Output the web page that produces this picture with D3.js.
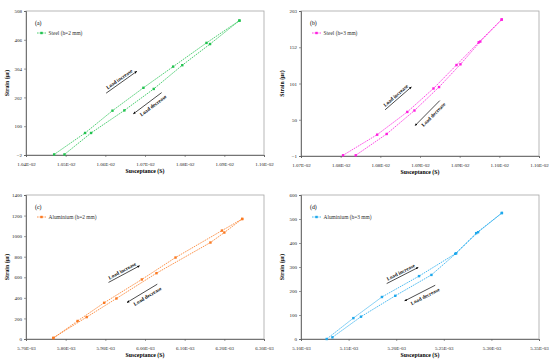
<!DOCTYPE html>
<html>
<head>
<meta charset="utf-8">
<script src="https://cdn.jsdelivr.net/npm/d3@7"></script>
<style>
  body { margin: 0; background: #fff; }
  svg { font-family: "Liberation Serif", "DejaVu Serif", serif; }
</style>
</head>
<body>
<svg width="550" height="362"></svg>
<script>
// (a) Steel h=2 mm : load increase then load decrease
var steel2IncX = [0.010471, 0.010549, 0.010618, 0.010696, 0.010771, 0.010855, 0.010938],
    steel2IncY = [0, 76, 155, 236, 311, 395, 474],
    steel2DecX = [0.010938, 0.010864, 0.010794, 0.010722, 0.010648, 0.010564, 0.010497],
    steel2DecY = [474, 391, 316, 232, 156, 76, 0];
// (b) Steel h=3 mm
var steel3IncX = [0.010773, 0.010816, 0.010854, 0.010887, 0.010916, 0.010944, 0.010973],
    steel3IncY = [0, 29, 61, 94, 127, 159, 191],
    steel3DecX = [0.010973, 0.010946, 0.010921, 0.010894, 0.010863, 0.010828, 0.010789],
    steel3DecY = [191, 160, 128, 96, 63, 30, 0];
// (c) Aluminium h=2 mm
var alu2IncX = [0.005769, 0.005830, 0.005897, 0.005992, 0.006077, 0.006194, 0.006245],
    alu2IncY = [8, 175, 352, 579, 792, 1054, 1167],
    alu2DecX = [0.006245, 0.006200, 0.006165, 0.006029, 0.005928, 0.005853, 0.005769],
    alu2DecY = [1167, 1035, 938, 640, 394, 213, 12];
// (d) Aluminium h=3 mm
var alu3IncX = [0.005127, 0.005155, 0.005185, 0.005224, 0.005262, 0.005284, 0.005311],
    alu3IncY = [0, 87, 175, 262, 355, 441, 525],
    alu3DecX = [0.005311, 0.005286, 0.005263, 0.005237, 0.005199, 0.005163, 0.005133],
    alu3DecY = [525, 445, 357, 267, 180, 93, 7];

// tick values
var ticksXa = [0.0104, 0.0105, 0.0106, 0.0107, 0.0108, 0.0109, 0.0110],
    ticksYa = [-2, 100, 202, 304, 406, 508],
    ticksXb = [0.01072, 0.01077, 0.01082, 0.01087, 0.01092, 0.01097, 0.01102],
    ticksYb = [-1, 50, 101, 152, 203],
    ticksXc = [0.0057, 0.0058, 0.0059, 0.0060, 0.0061, 0.0062, 0.0063],
    ticksYc = [0, 200, 400, 600, 800, 1000, 1200, 1400],
    ticksXd = [0.0051, 0.00515, 0.0052, 0.00525, 0.0053, 0.00535],
    ticksYd = [0, 100, 200, 300, 400, 500, 600];

// annotation arrows in data units [x0, y0, x1, y1] (arrow points to x1,y1)
var arrowsA = {inc: [0.010602, 217, 0.010679, 294], dec: [0.010742, 219, 0.010671, 144]},
    arrowsB = {inc: [0.010826, 64, 0.010859, 96], dec: [0.010895, 77, 0.010864, 42]},
    arrowsC = {inc: [0.005908, 550, 0.005986, 711], dec: [0.006031, 533, 0.005955, 356]},
    arrowsD = {inc: [0.005190, 231, 0.005223, 298], dec: [0.005241, 224, 0.005209, 159]};

var svg = d3.select("svg");

svg.append("defs").append("marker")
    .attr("id", "head")
    .attr("viewBox", "0 0 10 10")
    .attr("refX", 8).attr("refY", 5)
    .attr("markerWidth", 4).attr("markerHeight", 4)
    .attr("orient", "auto")
  .append("path")
    .attr("d", "M0,1L10,5L0,9z")
    .attr("fill", "#000");

function sci(d) {
  var p = d.toExponential(2).split("e"),
      e = +p[1];
  return p[0] + "E" + (e < 0 ? "-" : "+") + String(Math.abs(e)).padStart(2, "0");
}

function panel(o) {
  var g = svg.append("g"),
      x = d3.scaleLinear().domain([o.ticksX[0], o.ticksX[o.ticksX.length - 1]]).range([o.left, o.right]),
      y = d3.scaleLinear().domain([o.ticksY[0], o.ticksY[o.ticksY.length - 1]]).range([o.bottom, o.top]);

  // plot frame
  g.append("rect")
      .attr("x", o.left).attr("y", o.top)
      .attr("width", o.right - o.left).attr("height", o.bottom - o.top)
      .attr("fill", "none").attr("stroke", "#a6a6a6").attr("stroke-width", 0.8);

  var ax = g.append("g")
      .attr("transform", "translate(0," + o.bottom + ")")
      .call(d3.axisBottom(x).tickValues(o.ticksX).tickFormat(sci).tickSize(2).tickPadding(5));
  var ay = g.append("g")
      .attr("transform", "translate(" + o.left + ",0)")
      .call(d3.axisLeft(y).tickValues(o.ticksY).tickFormat(d3.format("d")).tickSize(2).tickPadding(2));
  [ax, ay].forEach(function(a) {
    a.select(".domain").attr("stroke", "#595959").attr("stroke-width", 0.8);
    a.selectAll(".tick line").attr("stroke", "#595959").attr("stroke-width", 0.6);
    a.selectAll("text").attr("font-family", "Liberation Serif").attr("font-size", 5).attr("fill", "#222");
  });

  g.append("text")
      .attr("x", (o.left + o.right) / 2).attr("y", o.bottom + 18)
      .attr("text-anchor", "middle")
      .attr("font-size", 5.8).attr("font-weight", "bold")
      .text("Susceptance (S)");
  g.append("text")
      .attr("transform", "translate(" + (o.left - 17) + "," + ((o.top + o.bottom) / 2) + ") rotate(-90)")
      .attr("text-anchor", "middle")
      .attr("font-size", 5.8).attr("font-weight", "bold")
      .text("Strain (με)");

  // data: increase path then decrease path back down
  var pts = o.incX.map(function(v, i) { return [v, o.incY[i]]; })
      .concat(o.decX.map(function(v, i) { return [v, o.decY[i]]; }));
  var line = d3.line().x(function(d) { return x(d[0]); }).y(function(d) { return y(d[1]); });
  g.append("path")
      .attr("d", line(pts))
      .attr("fill", "none")
      .attr("stroke", o.color).attr("stroke-width", 0.8)
      .attr("stroke-dasharray", "1.6,0.9");
  g.selectAll(".pt").data(pts).enter().append("rect")
      .attr("x", function(d) { return x(d[0]) - 1.2; })
      .attr("y", function(d) { return y(d[1]) - 1.2; })
      .attr("width", 2.4).attr("height", 2.4)
      .attr("fill", o.color);

  // panel letter + legend
  g.append("text")
      .attr("x", o.left + 9).attr("y", o.top + 14)
      .attr("font-size", 5.8)
      .text(o.letter);
  var ly = o.top + 22;
  g.append("line")
      .attr("x1", o.left + 11).attr("x2", o.left + 20)
      .attr("y1", ly).attr("y2", ly)
      .attr("stroke", o.color).attr("stroke-width", 0.8).attr("stroke-dasharray", "1.6,0.9");
  g.append("rect")
      .attr("x", o.left + 15.5 - 1.2).attr("y", ly - 1.2)
      .attr("width", 2.4).attr("height", 2.4)
      .attr("fill", o.color);
  g.append("text")
      .attr("x", o.left + 22.5).attr("y", ly + 1.8)
      .attr("font-size", 5.4).attr("fill", "#333")
      .text(o.label);

  // load increase / decrease arrows
  [["inc", "Load increase", -2, 0], ["dec", "Load decrease", 7, 3]].forEach(function(a) {
    var c = o.arrows[a[0]],
        x0 = x(c[0]), y0 = y(c[1]), x1 = x(c[2]), y1 = y(c[3]);
    g.append("line")
        .attr("x1", x0).attr("y1", y0).attr("x2", x1).attr("y2", y1)
        .attr("stroke", "#000").attr("stroke-width", 0.7)
        .attr("marker-end", "url(#head)");
    var lx = Math.min(x0, x1), rx = Math.max(x0, x1),
        ly0 = x0 < x1 ? y0 : y1, ry0 = x0 < x1 ? y1 : y0,
        ang = Math.atan2(ry0 - ly0, rx - lx) * 180 / Math.PI;
    g.append("text")
        .attr("transform", "translate(" + ((x0 + x1) / 2) + "," + ((y0 + y1) / 2) + ") rotate(" + ang + ")")
        .attr("x", a[3]).attr("y", a[2])
        .attr("text-anchor", "middle")
        .attr("font-size", 5.2).attr("font-weight", "bold").attr("fill", "#111")
        .text(a[1]);
  });
}

panel({letter: "(a)", label: "Steel (h=2 mm)", color: "#21c24f",
       incX: steel2IncX, incY: steel2IncY, decX: steel2DecX, decY: steel2DecY,
       ticksX: ticksXa, ticksY: ticksYa, arrows: arrowsA,
       left: 26, right: 264, top: 11, bottom: 155});
panel({letter: "(b)", label: "Steel (h=3 mm)", color: "#ff1fe0",
       incX: steel3IncX, incY: steel3IncY, decX: steel3DecX, decY: steel3DecY,
       ticksX: ticksXb, ticksY: ticksYb, arrows: arrowsB,
       left: 301, right: 539, top: 11, bottom: 156});
panel({letter: "(c)", label: "Aluminium (h=2 mm)", color: "#fb7a22",
       incX: alu2IncX, incY: alu2IncY, decX: alu2DecX, decY: alu2DecY,
       ticksX: ticksXc, ticksY: ticksYc, arrows: arrowsC,
       left: 26, right: 264, top: 195, bottom: 339});
panel({letter: "(d)", label: "Aluminium (h=3 mm)", color: "#1ea8ec",
       incX: alu3IncX, incY: alu3IncY, decX: alu3DecX, decY: alu3DecY,
       ticksX: ticksXd, ticksY: ticksYd, arrows: arrowsD,
       left: 301, right: 539, top: 195, bottom: 339});
</script>
</body>
</html>
